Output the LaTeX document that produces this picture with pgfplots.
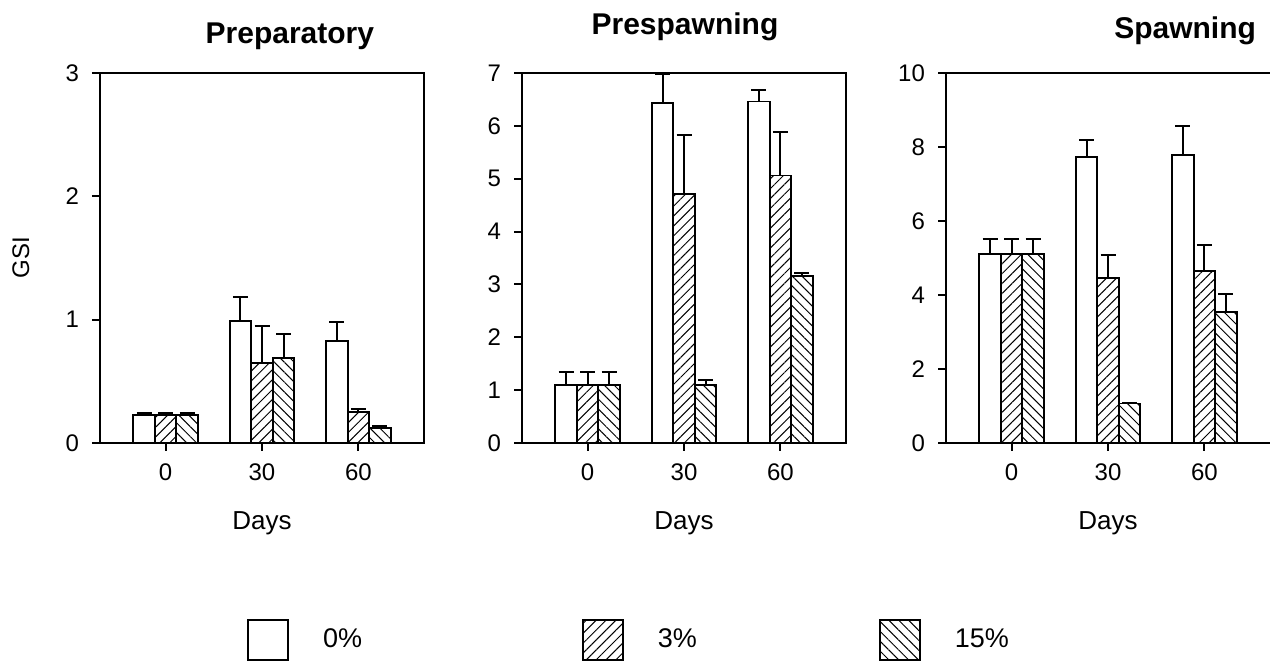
\documentclass[border=0pt]{standalone}
\usepackage{fontspec}
\setmainfont{Liberation Sans}
\usepackage{pgfplots}
\pgfplotsset{compat=1.18}
\usetikzlibrary{patterns.meta}

\pgfplotsset{
  panel/.style={
    scale only axis,
    width=162pt, height=185pt,
    anchor=south west,
    ybar, bar width=0.223,
    xmin=-0.68, xmax=2.68, ymin=0,
    xtick={0,1,2}, xticklabels={0,30,60},
    tick align=outside, tick pos=left,
    major tick length=4pt,
    tick style={line width=1pt, black},
    axis line style={line width=1pt, black},
    /pgf/number format/assume math mode=true,
    ticklabel style={font=\fontsize{12}{14}\selectfont},
    yticklabel style={xshift=-3pt},
    xticklabel style={yshift=-3pt},
    xlabel={Days},
    xlabel style={at={(axis description cs:0.5,-0.235)}, anchor=base, font=\fontsize{13}{15}\selectfont},
    title style={font=\bfseries\fontsize{15}{18}\selectfont, anchor=base},
    error bars/y dir=plus,
    error bars/y explicit,
    error bars/error bar style={line width=1pt, black},
    error bars/error mark options={rotate=90, mark size=3.75pt, line width=1pt, black},
  },
  s0/.style={draw=black, line width=0.9pt, fill=white, bar shift=-0.223},
  s3/.style={draw=black, line width=0.9pt, pattern={Lines[angle=45,distance=3.5pt,line width=0.5pt]}, bar shift=0},
  s15/.style={draw=black, line width=0.9pt, pattern={Lines[angle=-45,distance=3.5pt,line width=0.5pt]}, bar shift=0.223},
}

\begin{document}
\begin{tikzpicture}
\path[use as bounding box] (0,0) rectangle (635pt,331pt);

% Preparatory
\begin{axis}[panel, at={(50pt,109.5pt)},
  ymax=3, ytick={0,1,2,3},
  ylabel={GSI},
  ylabel style={at={(axis description cs:-0.244,0.5)}, anchor=center, font=\fontsize{12}{14}\selectfont},
  title={Preparatory},
  title style={at={(axis description cs:0.586,1)}, yshift=8.5pt},
]
\addplot[s0] coordinates {(0,0.23) +- (0,0.01) (1,0.99) +- (0,0.19) (2,0.83) +- (0,0.15)};
\addplot[s3] coordinates {(0,0.23) +- (0,0.01) (1,0.65) +- (0,0.30) (2,0.25) +- (0,0.025)};
\addplot[s15] coordinates {(0,0.23) +- (0,0.01) (1,0.69) +- (0,0.19) (2,0.12) +- (0,0.02)};
\end{axis}

% Prespawning
\begin{axis}[panel, at={(261pt,109.5pt)},
  ymax=7, ytick={0,1,...,7},
  title={Prespawning},
  title style={at={(axis description cs:0.503,1)}, yshift=13pt},
  legend columns=3,
  legend style={draw=none, fill=none, inner sep=0pt,
    at={(axis description cs:-0.849,-0.532)}, anchor=west,
    font=\fontsize{13.5}{16}\selectfont,
    nodes={inner xsep=0pt},
    /tikz/every odd column/.append style={column sep=17pt},
    /tikz/column 2/.append style={column sep=110pt},
    /tikz/column 4/.append style={column sep=91pt}},
  legend image code/.code={\draw[#1] (0pt,-10pt) rectangle (20pt,10pt);},
]
\addplot[s0] coordinates {(0,1.10) +- (0,0.24) (1,6.43) +- (0,0.55) (2,6.46) +- (0,0.22)};
\addlegendentry{0\%}
\addplot[s3] coordinates {(0,1.10) +- (0,0.24) (1,4.71) +- (0,1.12) (2,5.06) +- (0,0.83)};
\addlegendentry{3\%}
\addplot[s15] coordinates {(0,1.10) +- (0,0.24) (1,1.10) +- (0,0.10) (2,3.16) +- (0,0.06)};
\addlegendentry{15\%}
\end{axis}

% Spawning
\begin{axis}[panel, at={(473pt,109.5pt)},
  axis x line*=box, axis y line*=left,
  ymax=10, ytick={0,2,...,10},
  title={Spawning},
  title style={at={(axis description cs:0.738,1)}, yshift=11pt},
]
\addplot[s0] coordinates {(0,5.11) +- (0,0.41) (1,7.74) +- (0,0.45) (2,7.78) +- (0,0.78)};
\addplot[s3] coordinates {(0,5.11) +- (0,0.41) (1,4.47) +- (0,0.60) (2,4.65) +- (0,0.69)};
\addplot[s15] coordinates {(0,5.11) +- (0,0.41) (1,1.07) +- (0,0) (2,3.53) +- (0,0.49)};
\end{axis}
\end{tikzpicture}
\end{document}
